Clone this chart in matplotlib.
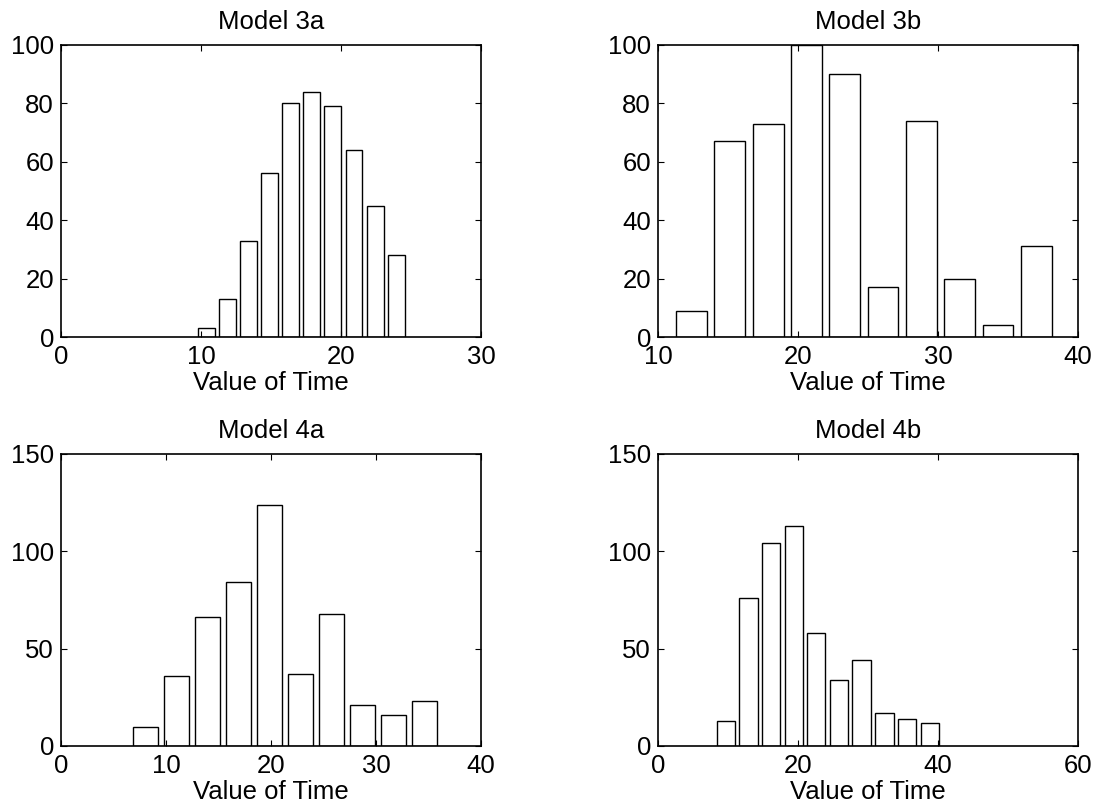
import matplotlib

matplotlib.use("Agg")
import matplotlib.pyplot as plt

plt.rcParams["font.family"] = ["Liberation Sans", "DejaVu Sans"]

# bin centres and counts (10 bins per panel)
centers_3a = [10.37, 11.88, 13.39, 14.90, 16.40, 17.91, 19.42, 20.93, 22.44, 23.95]
counts_3a = [3, 13, 33, 56, 80, 84, 79, 64, 45, 28]

centers_3b = [12.40, 15.12, 17.88, 20.60, 23.33, 26.08, 28.80, 31.56, 34.29, 37.03]
counts_3b = [9, 67, 73, 100, 90, 17, 74, 20, 4, 31]

centers_4a = [8.05, 10.98, 13.94, 16.89, 19.86, 22.81, 25.76, 28.71, 31.67, 34.63]
counts_4a = [10, 36, 66, 84, 124, 37, 68, 21, 16, 23]

centers_4b = [9.68, 12.93, 16.14, 19.38, 22.61, 25.84, 29.08, 32.36, 35.59, 38.83]
counts_4b = [13, 76, 104, 113, 58, 34, 44, 17, 14, 12]

titles = ["Model 3a", "Model 3b", "Model 4a", "Model 4b"]
xlims = [(0, 30), (10, 40), (0, 40), (0, 60)]
xticks = [[0, 10, 20, 30], [10, 20, 30, 40], [0, 10, 20, 30, 40], [0, 20, 40, 60]]
ylims = [(0, 100), (0, 100), (0, 150), (0, 150)]
yticks = [[0, 20, 40, 60, 80, 100], [0, 20, 40, 60, 80, 100], [0, 50, 100, 150], [0, 50, 100, 150]]

panels = [
    (centers_3a, counts_3a),
    (centers_3b, counts_3b),
    (centers_4a, counts_4a),
    (centers_4b, counts_4b),
]

fig = plt.figure(figsize=(11.01, 8.09), dpi=100)
positions = [
    [0.0554, 0.5834, 0.3815, 0.361],
    [0.5976, 0.5834, 0.3815, 0.361],
    [0.0554, 0.0779, 0.3815, 0.361],
    [0.5976, 0.0779, 0.3815, 0.361],
]

fs = 18.5
for pos, (centers, counts), title, xl, xt, yl, yt in zip(
    positions, panels, titles, xlims, xticks, ylims, yticks
):
    ax = fig.add_axes(pos)
    step = (centers[-1] - centers[0]) / (len(centers) - 1)
    ax.bar(centers, counts, width=0.8 * step, color="white", edgecolor="black", linewidth=1.0)
    ax.set_xlim(*xl)
    ax.set_ylim(*yl)
    ax.set_xticks(xt)
    ax.set_yticks(yt)
    ax.set_title(title, fontsize=fs, pad=11.5)
    ax.set_xlabel("Value of Time", fontsize=fs, labelpad=1.5)
    ax.tick_params(direction="in", top=True, right=True, length=4, width=0.8,
                   labelsize=fs, colors="black")
    ax.tick_params(axis="x", pad=6)
    ax.tick_params(axis="y", pad=5)
    for side in ax.spines.values():
        side.set_linewidth(1.2)

fig.savefig("out.png", dpi=100)
